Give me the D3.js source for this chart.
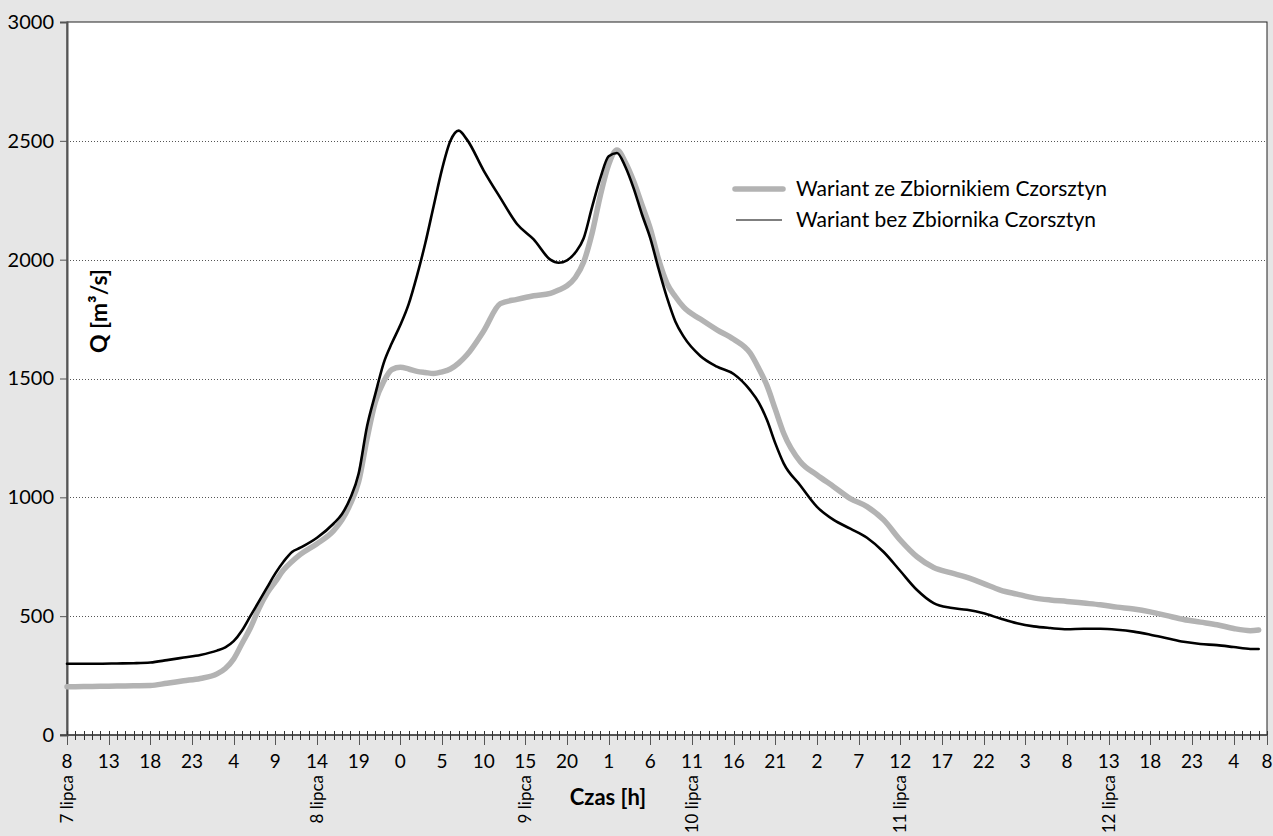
<!DOCTYPE html>
<html>
<head>
<meta charset="utf-8">
<script src="https://d3js.org/d3.v7.min.js"></script>
<style>
  body { margin: 0; background: #e6e6e6; }
  text { font-family: Lato, "Open Sans", sans-serif; fill: #000; }
</style>
</head>
<body>
<div id="chart"></div>
<script>
// hours counted from 7 lipca 8:00
var hours = [0,2,4,6,8,10,12,14,16,18,19,20,21,22,23,24,25,26,27,28,30,32,33,34,35,36,37,38,39,40,41,42,43,44,45,46,47,48,50,52,54,56,58,59,60,61,62,63,64,65,66,67,68,69,70,71,72,73,74,76,78,80,82,83,84,85,86,88,90,92,94,96,98,100,102,104,106,108,110,112,114,116,118,120,122,124,126,128,130,132,134,136,138,140,142,143];

var zeZbiornikiem = [203,204,205,206,207,208,218,228,238,257,280,320,385,450,530,596,645,695,730,760,805,860,905,972,1066,1246,1401,1487,1538,1547,1540,1530,1525,1521,1528,1540,1565,1600,1700,1815,1833,1848,1858,1872,1890,1925,1990,2110,2270,2400,2461,2410,2330,2230,2130,2000,1900,1845,1800,1750,1705,1665,1606,1543,1470,1370,1270,1150,1094,1045,995,961,905,820,750,705,683,663,637,610,593,577,568,562,555,548,538,530,518,502,486,475,464,448,439,442];

var bezZbiornika = [300,300,300,301,302,305,315,326,337,355,369,395,440,500,560,620,680,730,770,788,830,890,930,997,1100,1298,1435,1565,1650,1725,1813,1933,2070,2226,2380,2499,2543,2505,2375,2260,2150,2085,2000,1987,1997,2030,2090,2220,2343,2435,2449,2391,2300,2190,2090,1960,1840,1740,1676,1595,1550,1519,1450,1400,1325,1227,1143,1050,960,905,868,830,770,690,610,555,535,527,512,490,470,457,450,445,447,447,443,435,422,407,392,383,378,370,362,362];

var hourTicks = [0,5,10,15,20,25,30,35,40,45,50,55,60,65,70,75,80,85,90,95,100,105,110,115,120,125,130,135,140,144];
var hourLabels = ["8","13","18","23","4","9","14","19","0","5","10","15","20","1","6","11","16","21","2","7","12","17","22","3","8","13","18","23","4","8"];

var dateTicks = [0,30,55,75,100,125];
var dateLabels = ["7 lipca","8 lipca","9 lipca","10 lipca","11 lipca","12 lipca"];

var yTicks = [0,500,1000,1500,2000,2500,3000];

var seriesNames = ["Wariant ze Zbiornikiem Czorsztyn","Wariant bez Zbiornika Czorsztyn"];

var width = 1273, height = 836;
var plot = {left: 67, right: 1267, top: 22, bottom: 735};

var svg = d3.select("#chart").append("svg").attr("width", width).attr("height", height);

svg.append("rect").attr("width", width).attr("height", height).attr("fill", "#e6e6e6");

var x = d3.scaleLinear().domain([0, 144]).range([plot.left, plot.right]);
var y = d3.scaleLinear().domain([0, 3000]).range([plot.bottom, plot.top]);

svg.append("rect")
    .attr("x", plot.left).attr("y", plot.top)
    .attr("width", plot.right - plot.left).attr("height", plot.bottom - plot.top)
    .attr("fill", "#fff").attr("stroke", "#222").attr("stroke-width", 1);

// grid
svg.append("g").selectAll("line")
    .data(yTicks.filter(d => d > 0 && d < 3000))
    .enter().append("line")
    .attr("x1", plot.left).attr("x2", plot.right)
    .attr("y1", d => Math.round(y(d)) + 0.5).attr("y2", d => Math.round(y(d)) + 0.5)
    .attr("stroke", "#555").attr("stroke-dasharray", "1,2");

// y axis
var yAxis = d3.axisLeft(y).tickValues(yTicks).tickSize(7).tickPadding(6).tickFormat(d3.format("d"));
var gy = svg.append("g").attr("transform", `translate(${plot.left},0)`).call(yAxis);
gy.select(".domain").attr("stroke", "#555").attr("stroke-width", 2);
gy.selectAll(".tick line").attr("stroke", "#555");
gy.selectAll(".tick text").style("font-size", "20px").style("font-family", "Lato, sans-serif").attr("fill", "#000");

// x axis: hourly minor ticks, labelled ticks every 5 h
var gx = svg.append("g");
gx.append("line")
    .attr("x1", plot.left - 7).attr("x2", plot.right)
    .attr("y1", plot.bottom).attr("y2", plot.bottom)
    .attr("stroke", "#444").attr("stroke-width", 1.5);
gx.selectAll(".minor")
    .data(d3.range(0, 145))
    .enter().append("line")
    .attr("class", "minor")
    .attr("x1", d => Math.round(x(d)) + 0.5).attr("x2", d => Math.round(x(d)) + 0.5)
    .attr("y1", plot.bottom - 4).attr("y2", plot.bottom + 5)
    .attr("stroke", "#333");
gx.selectAll(".major")
    .data(hourTicks)
    .enter().append("line")
    .attr("class", "major")
    .attr("x1", d => Math.round(x(d)) + 0.5).attr("x2", d => Math.round(x(d)) + 0.5)
    .attr("y1", plot.bottom).attr("y2", plot.bottom + 10)
    .attr("stroke", "#555");
gx.selectAll(".hlabel")
    .data(hourTicks)
    .enter().append("text")
    .attr("class", "hlabel")
    .attr("x", d => x(d)).attr("y", 768)
    .attr("text-anchor", "middle")
    .style("font-size", "19px")
    .text((d, i) => hourLabels[i]);
gx.selectAll(".dlabel")
    .data(dateTicks)
    .enter().append("text")
    .attr("class", "dlabel")
    .attr("transform", d => `translate(${x(d) + 6},775) rotate(-90)`)
    .attr("text-anchor", "end")
    .style("font-size", "17px")
    .text((d, i) => dateLabels[i]);

// axis titles
svg.append("text")
    .attr("x", 608).attr("y", 805)
    .attr("text-anchor", "middle")
    .style("font-size", "22px").style("font-weight", "bold")
    .text("Czas [h]");
svg.append("text")
    .attr("transform", "translate(107,311) rotate(-90)")
    .attr("text-anchor", "middle")
    .style("font-size", "23px").style("font-weight", "bold")
    .text("Q [m³/s]");

// lines
var line = d3.line()
    .x((d, i) => x(hours[i]))
    .y(d => y(d))
    .curve(d3.curveMonotoneX);

svg.append("path")
    .datum(zeZbiornikiem)
    .attr("d", line)
    .attr("fill", "none").attr("stroke", "#b3b3b3").attr("stroke-width", 5.5)
    .attr("stroke-linejoin", "round").attr("stroke-linecap", "round");

svg.append("path")
    .datum(bezZbiornika)
    .attr("d", line)
    .attr("fill", "none").attr("stroke", "#000").attr("stroke-width", 2.6)
    .attr("stroke-linejoin", "round").attr("stroke-linecap", "round");

// legend
var legend = svg.append("g");
legend.append("line")
    .attr("x1", 735).attr("x2", 783).attr("y1", 189).attr("y2", 189)
    .attr("stroke", "#b3b3b3").attr("stroke-width", 5.5).attr("stroke-linecap", "round");
legend.append("line")
    .attr("x1", 736).attr("x2", 782).attr("y1", 220).attr("y2", 220)
    .attr("stroke", "#000").attr("stroke-width", 1.2);
legend.selectAll("text")
    .data(seriesNames)
    .enter().append("text")
    .attr("x", 796).attr("y", (d, i) => 196 + i * 31)
    .style("font-size", "21px")
    .text(d => d);
</script>
</body>
</html>
